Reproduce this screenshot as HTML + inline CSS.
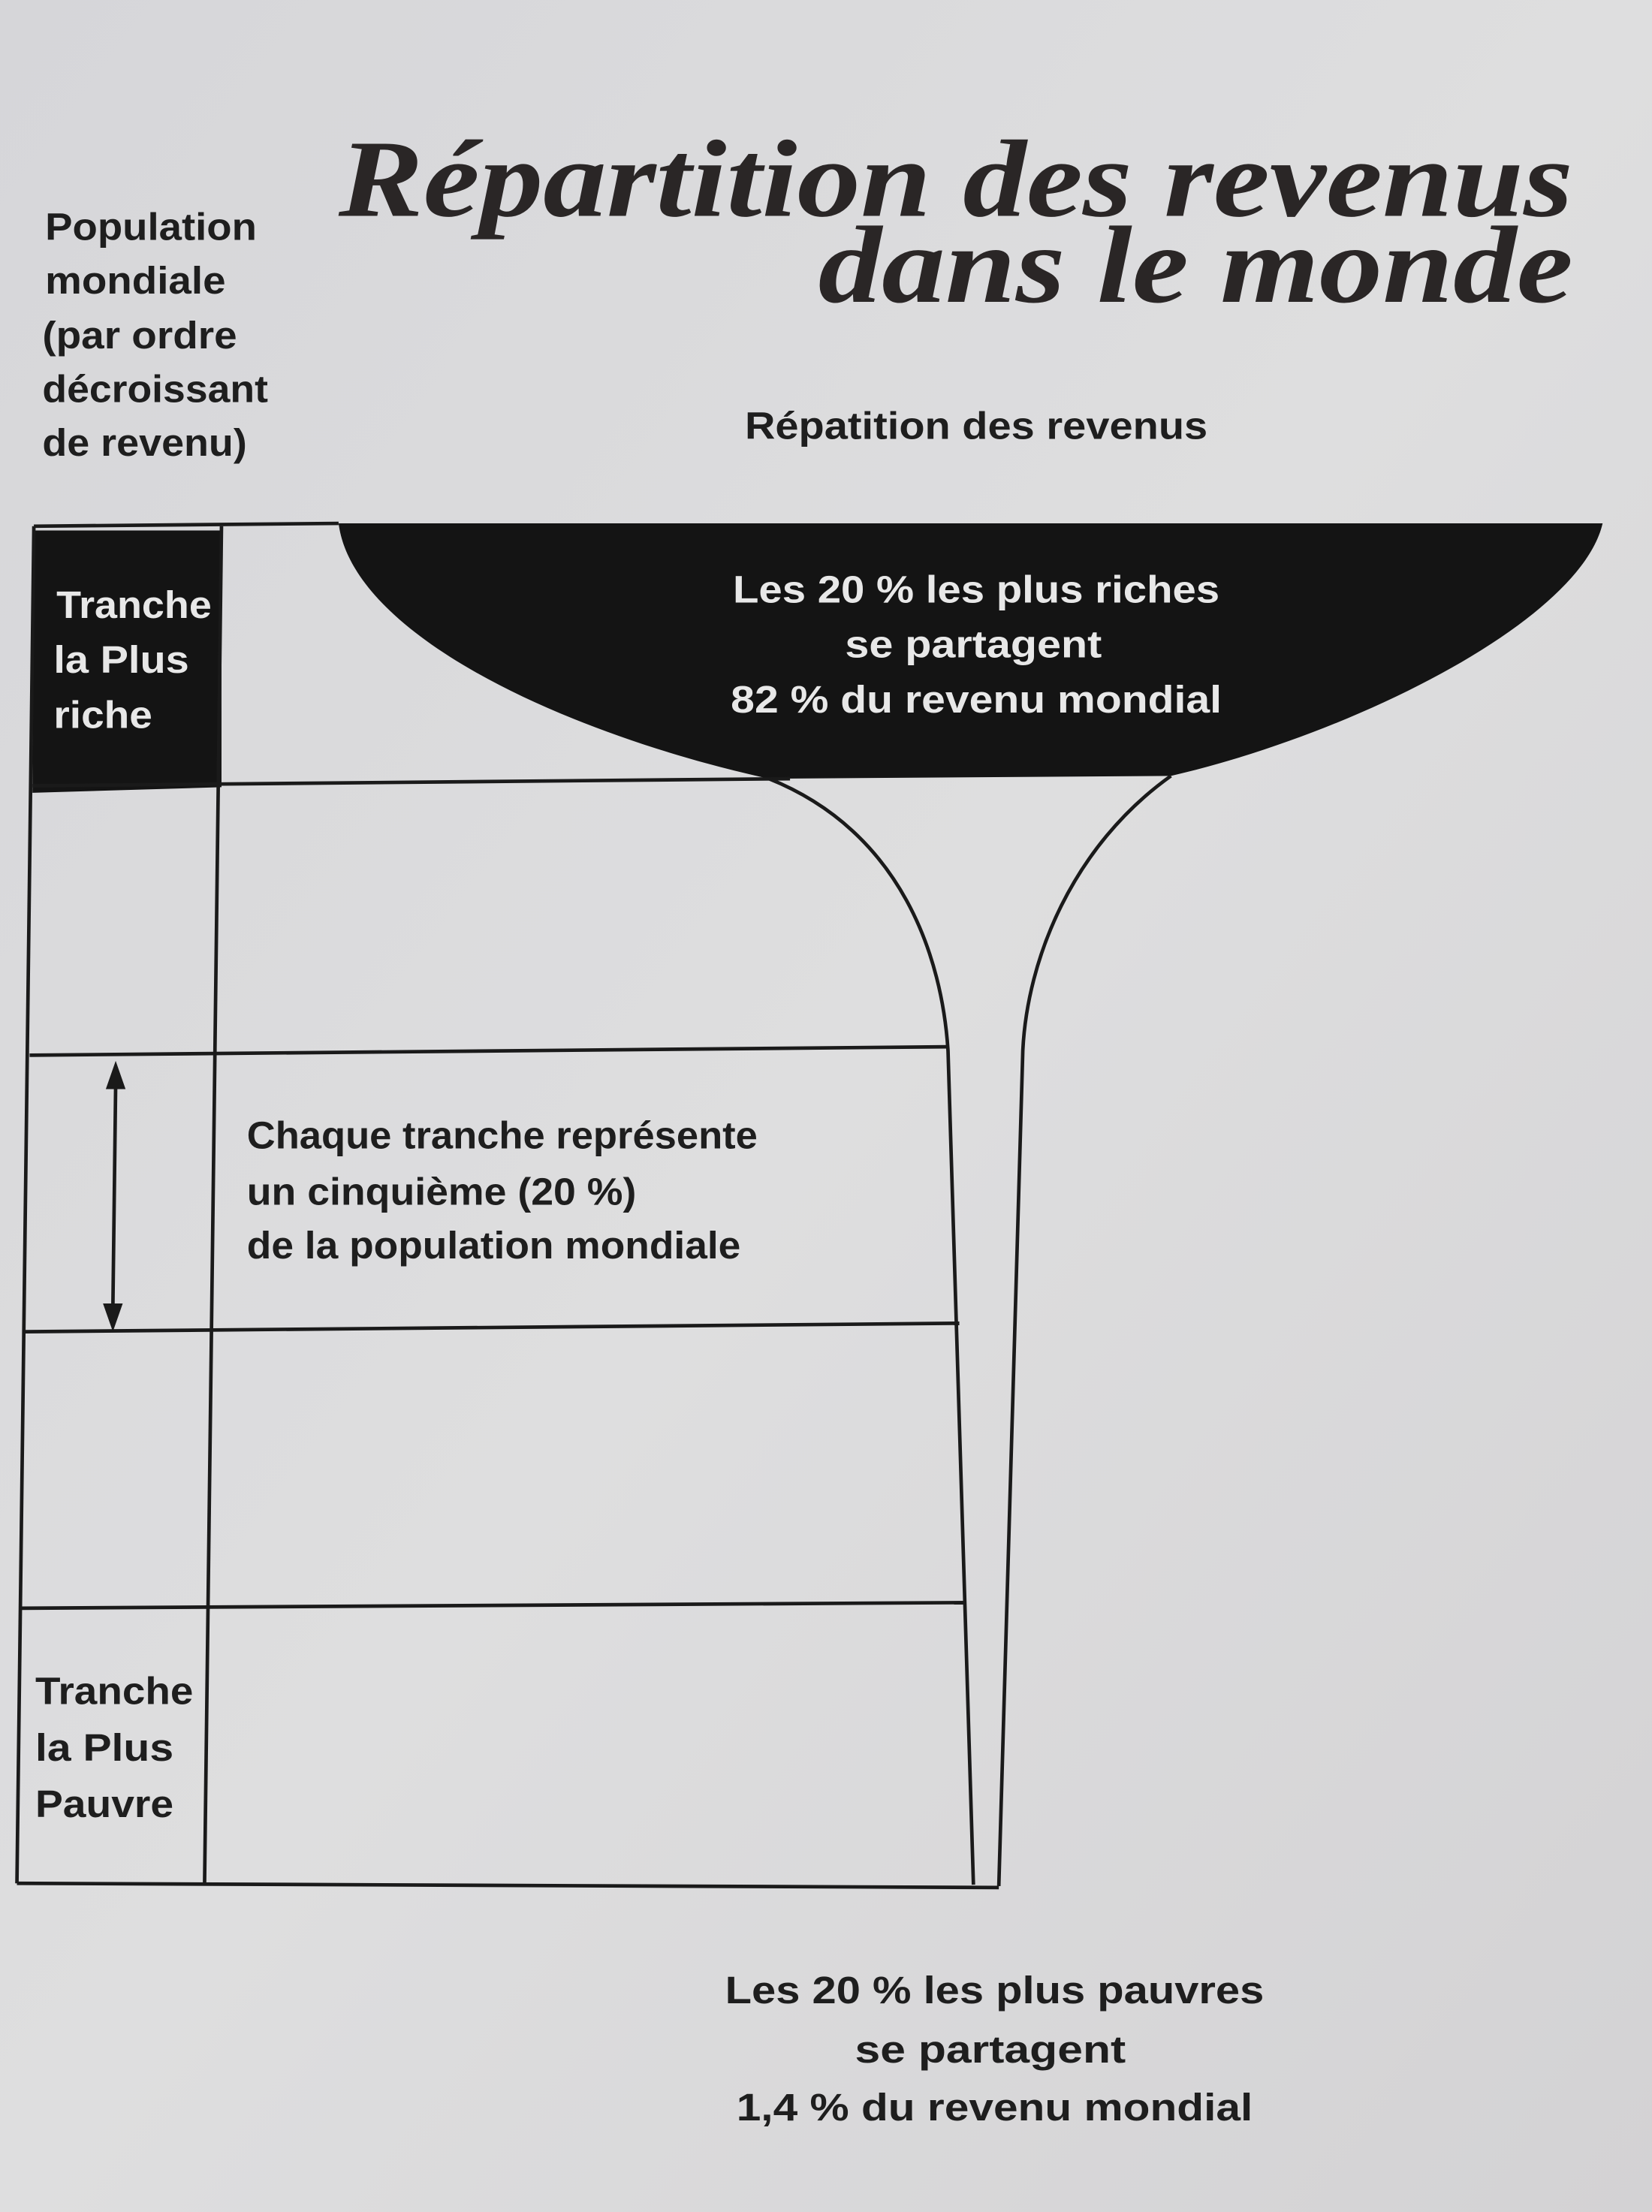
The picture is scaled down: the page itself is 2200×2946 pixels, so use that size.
<!DOCTYPE html>
<html><head><meta charset="utf-8"><style>
html,body{margin:0;padding:0;background:#d9d9dc;}
svg{display:block}
.s{font-family:"Liberation Sans Narrow","Liberation Sans",sans-serif;font-weight:bold;font-size:27px;fill:#1e1e1e}
.w{fill:#e8e8e8}
.t{font-family:"Liberation Serif",serif;font-weight:bold;font-style:italic;font-size:78px;fill:#2a2626}
</style></head><body>
<svg width="2200" height="2946" viewBox="0 0 1171 1568" preserveAspectRatio="none" xmlns="http://www.w3.org/2000/svg">
<defs>
<linearGradient id="bg" x1="0" y1="0" x2="1" y2="1">
<stop offset="0" stop-color="#d6d6d9"/><stop offset="0.5" stop-color="#dededf"/><stop offset="1" stop-color="#d3d2d4"/>
</linearGradient>
</defs>
<rect width="1171" height="1568" fill="url(#bg)"/>
<text class="t" x="240" y="153" textLength="875" lengthAdjust="spacingAndGlyphs">Répartition des revenus</text>
<text class="t" x="580" y="214" textLength="535" lengthAdjust="spacingAndGlyphs">dans le monde</text>

<g class="s">
<text x="32" y="170" textLength="150" lengthAdjust="spacingAndGlyphs">Population</text>
<text x="32" y="208" textLength="128" lengthAdjust="spacingAndGlyphs">mondiale</text>
<text x="30" y="247" textLength="138" lengthAdjust="spacingAndGlyphs">(par ordre</text>
<text x="30" y="285" textLength="160" lengthAdjust="spacingAndGlyphs">décroissant</text>
<text x="30" y="323" textLength="145" lengthAdjust="spacingAndGlyphs">de revenu)</text>
<text x="528" y="311" textLength="328" lengthAdjust="spacingAndGlyphs">Répatition des revenus</text>
</g>

<!-- black cell -->
<polygon points="24,376 157,376 157,558 23,562" fill="#141414"/>
<!-- bowl -->
<path d="M240 371 L1136 371 C1120 440 960 520 830 550 L545 552 C400 520 250 450 240 371 Z" fill="#141414"/>

<g stroke="#1a1a1a" stroke-width="2.5" fill="none">
<!-- top line -->
<line x1="24" y1="373" x2="240" y2="371"/>
<!-- left border -->
<line x1="24" y1="373" x2="12" y2="1335"/>
<!-- column divider -->
<line x1="157" y1="373" x2="145" y2="1336"/>
<!-- row lines -->
<line x1="23" y1="557" x2="560" y2="552"/>
<line x1="21" y1="748" x2="672" y2="742"/>
<line x1="18" y1="944" x2="680" y2="938"/>
<line x1="15" y1="1140" x2="685" y2="1136"/>
<line x1="12" y1="1335" x2="708" y2="1338"/>
<!-- funnel stem -->
<path d="M545 552 C640 590 668 680 672 745 L690 1336"/>
<path d="M830 550 C760 600 728 680 725 745 L708 1337"/>
<!-- arrow -->
<line x1="82" y1="768" x2="80" y2="928"/>
</g>
<polygon points="82,752 75,772 89,772" fill="#1a1a1a"/>
<polygon points="80,944 73,924 87,924" fill="#1a1a1a"/>

<g class="s w">
<text x="40" y="438" textLength="110" lengthAdjust="spacingAndGlyphs">Tranche</text>
<text x="38" y="477" textLength="96" lengthAdjust="spacingAndGlyphs">la Plus</text>
<text x="38" y="516" textLength="70" lengthAdjust="spacingAndGlyphs">riche</text>
<text x="692" y="427" text-anchor="middle" textLength="345" lengthAdjust="spacingAndGlyphs">Les 20 % les plus riches</text>
<text x="690" y="466" text-anchor="middle" textLength="182" lengthAdjust="spacingAndGlyphs">se partagent</text>
<text x="692" y="505" text-anchor="middle" textLength="348" lengthAdjust="spacingAndGlyphs">82 % du revenu mondial</text>
</g>

<g class="s">
<text x="175" y="814" textLength="362" lengthAdjust="spacingAndGlyphs">Chaque tranche représente</text>
<text x="175" y="854" textLength="276" lengthAdjust="spacingAndGlyphs">un cinquième (20 %)</text>
<text x="175" y="892" textLength="350" lengthAdjust="spacingAndGlyphs">de la population mondiale</text>
<text x="25" y="1208" textLength="112" lengthAdjust="spacingAndGlyphs">Tranche</text>
<text x="25" y="1248" textLength="98" lengthAdjust="spacingAndGlyphs">la Plus</text>
<text x="25" y="1288" textLength="98" lengthAdjust="spacingAndGlyphs">Pauvre</text>
<text x="705" y="1420" text-anchor="middle" textLength="382" lengthAdjust="spacingAndGlyphs">Les 20 % les plus pauvres</text>
<text x="702" y="1462" text-anchor="middle" textLength="192" lengthAdjust="spacingAndGlyphs">se partagent</text>
<text x="705" y="1503" text-anchor="middle" textLength="366" lengthAdjust="spacingAndGlyphs">1,4 % du revenu mondial</text>
</g>
</svg>
</body></html>
